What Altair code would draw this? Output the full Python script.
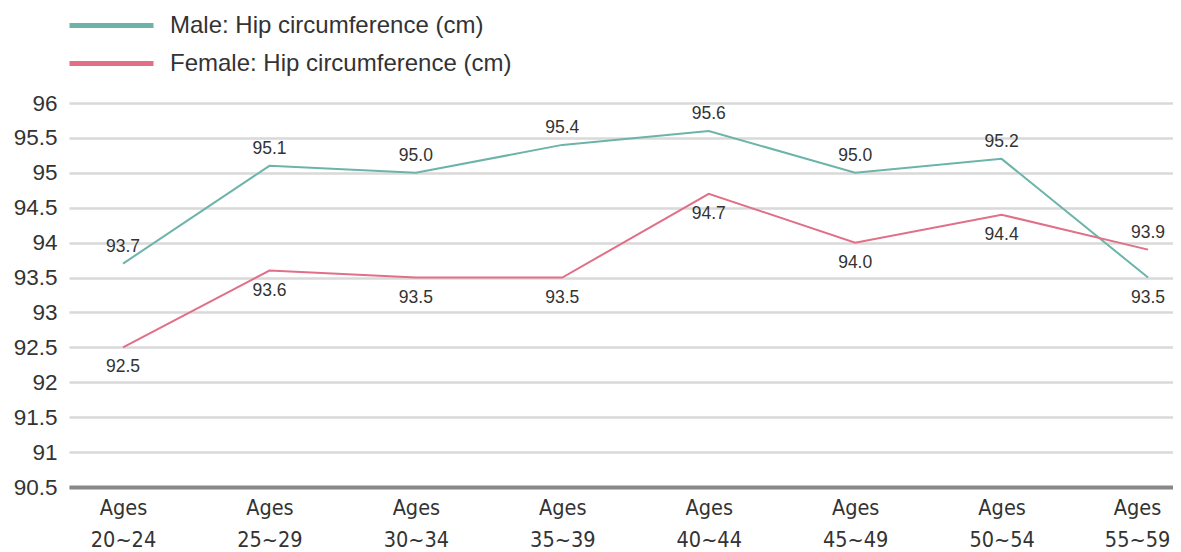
import altair as alt
import pandas as pd

categories = ["Ages 20~24", "Ages 25~29", "Ages 30~34", "Ages 35~39",
              "Ages 40~44", "Ages 45~49", "Ages 50~54", "Ages 55~59"]
male = [93.7, 95.1, 95.0, 95.4, 95.6, 95.0, 95.2, 93.5]
female = [92.5, 93.6, 93.5, 93.5, 94.7, 94.0, 94.4, 93.9]
male_label_side = ["above"] * 7 + ["below"]
female_label_side = ["below"] * 7 + ["above"]
series_names = ["Male: Hip circumference (cm)", "Female: Hip circumference (cm)"]
colors = ["#6cb4a9", "#e06f87"]
y_ticks = [90.5, 91, 91.5, 92, 92.5, 93, 93.5, 94, 94.5, 95, 95.5, 96]

rows = []
for c, v, s in zip(categories, male, male_label_side):
    rows.append({"cat": c, "value": v, "series": series_names[0], "side": s})
for c, v, s in zip(categories, female, female_label_side):
    rows.append({"cat": c, "value": v, "series": series_names[1], "side": s})
df = pd.DataFrame(rows)

FONT = "Liberation Sans"
NARROW = "'Liberation Sans Narrow', 'DejaVu Sans Condensed', 'Roboto Condensed', 'Liberation Sans'"

x = alt.X("cat:N", sort=categories, title=None,
          scale=alt.Scale(type="point", padding=0.2696, align=0.684),
          axis=alt.Axis(labelExpr="split(datum.label, ' ')", labelAngle=0,
                        labelFont=NARROW, labelFontSize=21.5,
                        labelLineHeight=32, labelColor="#333333", labelPadding=10,
                        labelOffset={"condition": {"test": "datum.value == 'Ages 55~59'",
                                                   "value": -11},
                                     "value": 0},
                        ticks=False, domainColor="#888888", domainWidth=4,
                        grid=False))
y = alt.Y("value:Q", title=None,
          scale=alt.Scale(domain=[90.5, 96], nice=False, zero=False),
          axis=alt.Axis(values=y_ticks, labelFont=FONT, labelFontSize=22.5,
                        labelColor="#333333", labelPadding=12, ticks=False,
                        domain=False, gridColor="#d9d9d9", gridWidth=2.5,
                        labelExpr="datum.value + ''"))

color = alt.Color("series:N", sort=series_names,
                  scale=alt.Scale(domain=series_names, range=colors),
                  legend=alt.Legend(title=None, orient="none", legendX=19, legendY=-101,
                                    symbolType="M-2,0H2", symbolSize=1764,
                                    symbolStrokeWidth=5, labelFont=FONT,
                                    labelFontSize=24, labelColor="#333333",
                                    labelLimit=600, labelOffset=35,
                                    rowPadding=2, padding=0))

lines = alt.Chart(df).mark_line(strokeWidth=2).encode(x=x, y=y, color=color)

above = alt.Chart(df).transform_filter("datum.side == 'above'").mark_text(
    dy=-17, font=FONT, fontSize=17.5, color="#333333"
).encode(x=x, y=y, text=alt.Text("value:Q", format=".1f"))
below = alt.Chart(df).transform_filter("datum.side == 'below'").mark_text(
    dy=20, font=FONT, fontSize=17.5, color="#333333"
).encode(x=x, y=y, text=alt.Text("value:Q", format=".1f"))

chart = alt.layer(lines, above, below).properties(
    width=1104, height=384,
    autosize=alt.AutoSizeParams(type="none"),
    padding={"left": 61, "top": 95, "right": 0, "bottom": 65},
).configure_view(stroke=None)

chart.save("out.html", embed_options={"renderer": "svg", "actions": False})
